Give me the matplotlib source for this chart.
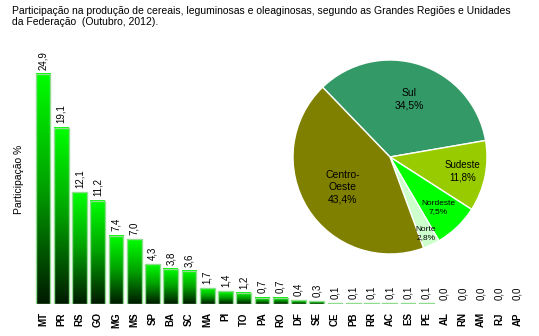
import numpy as np
import matplotlib.pyplot as plt
from matplotlib.colors import LinearSegmentedColormap

plt.rcParams['font.family'] = ['Liberation Sans', 'DejaVu Sans']

# participacao por UF (%)
ufs = ['MT', 'PR', 'RS', 'GO', 'MG', 'MS', 'SP', 'BA', 'SC', 'MA', 'PI', 'TO', 'PA',
       'RO', 'DF', 'SE', 'CE', 'PB', 'RR', 'AC', 'ES', 'PE', 'AL', 'RN', 'AM', 'RJ', 'AP']
part_uf = [24.9, 19.1, 12.1, 11.2, 7.4, 7.0, 4.3, 3.8, 3.6, 1.7, 1.4, 1.2, 0.7,
           0.7, 0.4, 0.3, 0.1, 0.1, 0.1, 0.1, 0.1, 0.1, 0.0, 0.0, 0.0, 0.0, 0.0]

# participacao por grande regiao (%)
regioes = ['Sul', 'Sudeste', 'Nordeste', 'Norte', 'Centro-\nOeste']
part_reg = [34.5, 11.8, 7.5, 2.8, 43.4]
cores_reg = ['#339966', '#99cc00', '#00ff00', '#ccffcc', '#808000']

W, H = 539, 336
fig = plt.figure(figsize=(W / 100, H / 100), dpi=100)

fig.text(12 / W, 1 - 6 / H,
         'Participação na produção de cereais, leguminosas e oleaginosas, segundo as Grandes Regiões e Unidades\n'
         'da Federação  (Outubro, 2012).',
         ha='left', va='top', fontsize=7.45, linespacing=1.15)

# --- barras ---
px = 18.25
x0, x1 = 43 - 0.6 * px, 517.5 + 0.6 * px
base, ppu = 304, 9.24
ymax = 27
ax = fig.add_axes([x0 / W, (H - base) / H, (x1 - x0) / W, ymax * ppu / H])
ax.set_xlim(-0.6, len(ufs) - 0.4)
ax.set_ylim(0, ymax)

cmap = LinearSegmentedColormap.from_list('verde', ['#001a00', '#00a000', '#00ff00'])
grad = np.linspace(0, 1, 128).reshape(-1, 1)
larg = 0.8
for i, v in enumerate(part_uf):
    if v > 0:
        ax.imshow(grad, cmap=cmap, origin='lower', aspect='auto',
                  extent=[i - larg / 2, i + larg / 2, 0, v], zorder=2)
        ax.bar(i, v, width=larg, facecolor='none', edgecolor='#8fdc8f', linewidth=1, zorder=3)
    ax.text(i, v + 0.45, f'{v:.1f}'.replace('.', ','), rotation=90,
            ha='center', va='bottom', fontsize=7)

ax.set_xticks(range(len(ufs)))
ax.set_xticklabels(ufs, rotation=90, fontsize=7, fontweight='bold')
ax.tick_params(axis='x', length=0, pad=6)
ax.set_yticks([])
for s in ax.spines.values():
    s.set_visible(False)
ax.set_ylabel('Participação %', fontsize=7.5, labelpad=6)

# --- pizza ---
cx, cy, r = 390, 157, 97
pax = fig.add_axes([(cx - r) / W, (H - cy - r) / H, 2 * r / W, 2 * r / H])
pax.pie(part_reg, colors=cores_reg, startangle=134, counterclock=False, radius=1,
        wedgeprops=dict(edgecolor='white', linewidth=1))
pax.set_xlim(-1, 1)
pax.set_ylim(-1, 1)
pax.set_aspect('auto')
pax.axis('off')

dist = [0.63, 0.76, 0.72, 0.87, 0.58]
tam = [7.5, 7, 6, 6, 7.5]
ang = 134
for nome, v, d, t in zip(regioes, part_reg, dist, tam):
    meio = np.radians(ang - v * 3.6 / 2)
    ang -= v * 3.6
    pax.text(d * np.cos(meio), d * np.sin(meio), nome + '\n' + f'{v:.1f}'.replace('.', ',') + '%',
             ha='center', va='center', fontsize=t, linespacing=1.3)

fig.savefig('out.png', dpi=100)
